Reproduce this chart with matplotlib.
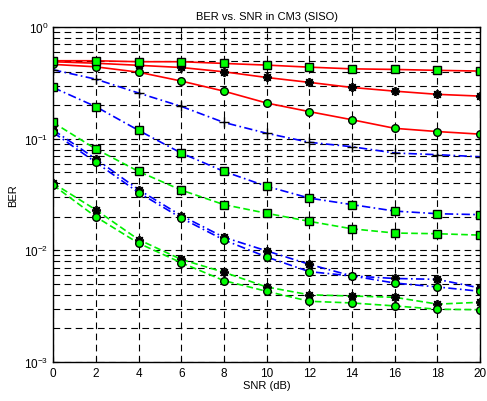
import numpy as np
import matplotlib
matplotlib.use("Agg")
import matplotlib.pyplot as plt
from matplotlib.ticker import LogLocator, NullFormatter

plt.rcParams['font.family'] = ['Liberation Sans', 'DejaVu Sans']

snr = [0, 2, 4, 6, 8, 10, 12, 14, 16, 18, 20]

# red solid curves
red_sq = [0.50, 0.50, 0.49, 0.49, 0.473, 0.457, 0.438, 0.423, 0.418, 0.41, 0.404]
red_st = [0.49, 0.475, 0.455, 0.435, 0.398, 0.354, 0.32, 0.288, 0.267, 0.25, 0.241]
red_ci = [0.464, 0.441, 0.395, 0.329, 0.267, 0.209, 0.175, 0.148, 0.124, 0.116, 0.110]

# blue dash-dot curves
blue_pl = [0.415, 0.342, 0.257, 0.195, 0.140, 0.112, 0.093, 0.0848, 0.0745, 0.072, 0.069]
blue_sq = [0.288, 0.194, 0.119, 0.0745, 0.051, 0.0375, 0.0294, 0.0257, 0.0225, 0.0213, 0.0209]
blue_st = [0.12, 0.066, 0.035, 0.0205, 0.0131, 0.0099, 0.0075, 0.0059, 0.0056, 0.0055, 0.0046]
blue_ci = [0.114, 0.0615, 0.033, 0.0195, 0.0124, 0.00873, 0.00645, 0.0059, 0.0051, 0.0047, 0.0043]

# green dashed curves
green_sq = [0.140, 0.081, 0.051, 0.0347, 0.0257, 0.0215, 0.0182, 0.0156, 0.0143, 0.0141, 0.0137]
green_st = [0.040, 0.0231, 0.0125, 0.0083, 0.00637, 0.0047, 0.0040, 0.0039, 0.0038, 0.0033, 0.00343]
green_ci = [0.0385, 0.020, 0.0116, 0.00776, 0.00536, 0.0043, 0.0035, 0.00338, 0.00318, 0.00297, 0.00294]

fig = plt.figure(figsize=(4.87, 4.02), dpi=100)
ax = fig.add_axes([0.109, 0.097, 0.877, 0.833])

sq = dict(marker='s', markersize=5.5, markerfacecolor='#00ff00', markeredgecolor='k', markeredgewidth=1)
ci = dict(marker='o', markersize=5.5, markerfacecolor='#00ff00', markeredgecolor='k', markeredgewidth=1)
st = dict(marker=(8, 2, 0), markersize=6.5, markeredgecolor='k', markeredgewidth=1.3)
pl = dict(marker='+', markersize=7, markeredgecolor='k', markeredgewidth=1)

red = dict(color='#ff0000', linestyle='-', linewidth=1.2)
blue = dict(color='#0000ff', linestyle=(0, (5, 2, 1, 2)), linewidth=1.2)
green = dict(color='#00ee00', linestyle=(0, (4, 2)), linewidth=1.2)

ax.semilogy(snr, red_st, **red, **st)
ax.semilogy(snr, red_ci, **red, **ci)
ax.semilogy(snr, red_sq, **red, **sq)

ax.semilogy(snr, blue_pl, **blue, **pl)
ax.semilogy(snr, blue_st, **blue, **st)
ax.semilogy(snr, blue_ci, **blue, **ci)
ax.semilogy(snr, blue_sq, **blue, **sq)

ax.semilogy(snr, green_st, **green, **st)
ax.semilogy(snr, green_ci, **green, **ci)
ax.semilogy(snr, green_sq, **green, **sq)

ax.set_xlim(0, 20)
ax.set_ylim(1e-3, 1)
ax.set_xticks(range(0, 21, 2))
ax.yaxis.set_major_locator(LogLocator(base=10))
ax.yaxis.set_minor_locator(LogLocator(base=10, subs=np.arange(2, 10)))
ax.yaxis.set_minor_formatter(NullFormatter())

ax.set_axisbelow(True)
ax.grid(True, which='major', color='k', linestyle=(0, (6, 4)), linewidth=0.8)
ax.grid(True, which='minor', axis='y', color='k', linestyle=(0, (6, 4)), linewidth=0.8)
ax.tick_params(which='both', direction='in', top=True, right=True, labelsize=8.5)
for s in ax.spines.values():
    s.set_linewidth(1)

ax.set_title('BER vs. SNR in CM3 (SISO)', fontsize=8, pad=6)
ax.set_xlabel('SNR (dB)', fontsize=8, labelpad=1)
ax.set_ylabel('BER', fontsize=8)

fig.savefig('out.png', dpi=100)
